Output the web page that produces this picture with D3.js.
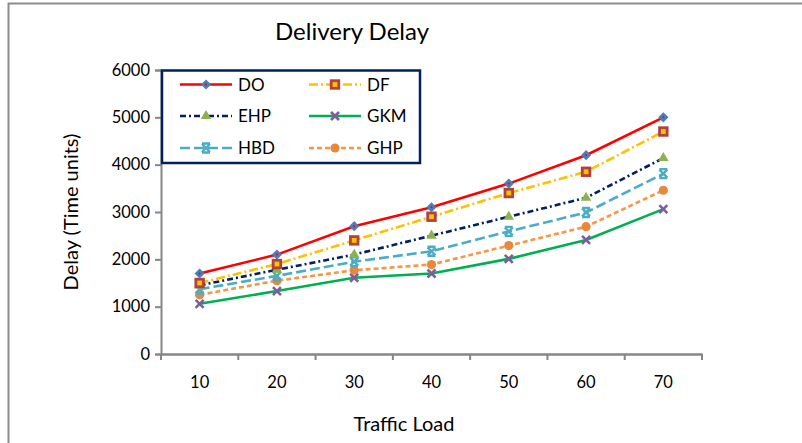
<!DOCTYPE html>
<html><head><meta charset="utf-8">
<script src="https://cdn.jsdelivr.net/npm/d3@7"></script>
<style>
body{margin:0;background:#fff;}
svg{display:block;font-family:Lato,"Open Sans",sans-serif;}
</style></head>
<body><svg id="c" width="802" height="443"></svg>
<script>
const loads = [10, 20, 30, 40, 50, 60, 70];
const yTicks = [0, 1000, 2000, 3000, 4000, 5000, 6000];
const seriesNames = ["DO", "DF", "EHP", "GKM", "HBD", "GHP"];
const DO  = [1700, 2100, 2700, 3100, 3600, 4200, 5000];
const DF  = [1500, 1900, 2400, 2900, 3400, 3850, 4700];
const EHP = [1450, 1780, 2100, 2500, 2900, 3300, 4140];
const GKM = [1060, 1330, 1610, 1700, 2010, 2410, 3060];
const HBD = [1370, 1650, 1950, 2170, 2590, 2990, 3810];
const GHP = [1250, 1550, 1770, 1890, 2290, 2690, 3460];
const values = {DO, DF, EHP, GKM, HBD, GHP};

const styles = {
  DO:  {color:"#ff0000", dash:null,        marker:"diamond", mfill:"#4a7ebb", mstroke:"#4a7ebb"},
  DF:  {color:"#ffc000", dash:"9,3,2,3",   marker:"square",  mfill:"#ffc000", mstroke:"#b0413e"},
  EHP: {color:"#002060", dash:"6,3,2,3",   marker:"triangle",mfill:"#8fb04f", mstroke:"#8fb04f"},
  GKM: {color:"#00b050", dash:null,        marker:"x",       mfill:"#7a5f9e", mstroke:"#7a5f9e"},
  HBD: {color:"#4bacc6", dash:"10,4",      marker:"star",    mfill:"#4bacc6", mstroke:"#4bacc6"},
  GHP: {color:"#f79646", dash:"5,3",       marker:"circle",  mfill:"#e8883a", mstroke:"#e8883a"}
};

const svg = d3.select("#c");
// outer frame
svg.append("rect").attr("x",8.5).attr("y",3.5).attr("width",820).attr("height",460)
  .attr("fill","none").attr("stroke","#8c8c8c").attr("stroke-width",2);

const x = d3.scaleBand().domain(loads).range([161, 702]).padding(0);
const y = d3.scaleLinear().domain([0, 6000]).range([354, 70]);
const cx = d => x(d) + x.bandwidth()/2;
const axisColor = "#868686";

// y axis
const ya = svg.append("g").attr("transform","translate(161,0)")
  .call(d3.axisLeft(y).tickValues(yTicks).tickSize(6).tickPadding(5).tickFormat(d3.format("d")));
ya.select(".domain").attr("stroke",axisColor).attr("stroke-width",2);
ya.selectAll(".tick line").attr("stroke",axisColor).attr("stroke-width",2);
ya.selectAll("text").attr("font-size",16.5).attr("fill","#000").attr("font-family","Lato");

// x axis
const xa = svg.append("g").attr("transform","translate(0,354)")
  .call(d3.axisBottom(x).tickSize(0).tickPadding(22).tickSizeOuter(0));
xa.select(".domain").attr("stroke",axisColor).attr("stroke-width",2.5);
xa.selectAll("text").attr("font-size",16.5).attr("fill","#000").attr("font-family","Lato");
const bounds = loads.map(d => x(d)).concat([x(loads[loads.length-1]) + x.bandwidth()]);
svg.append("g").selectAll("line").data(bounds).join("line")
  .attr("x1",d=>d).attr("x2",d=>d).attr("y1",354).attr("y2",360)
  .attr("stroke",axisColor).attr("stroke-width",2);

// titles
svg.append("text").attr("x",352).attr("y",40).attr("text-anchor","middle")
  .attr("font-size",24).attr("fill","#000").text("Delivery Delay");
svg.append("text").attr("x",404).attr("y",431).attr("text-anchor","middle")
  .attr("font-size",20).attr("fill","#000").text("Traffic Load");
svg.append("text").attr("transform","translate(78,212) rotate(-90)").attr("text-anchor","middle")
  .attr("font-size",20).attr("fill","#000").text("Delay (Time units)");

function drawMarker(g, type, st) {
  if (type === "diamond") {
    g.append("rect").attr("x",-3.6).attr("y",-3.6).attr("width",7.2).attr("height",7.2)
      .attr("transform","rotate(45)").attr("fill", st.mfill);
    g.append("circle").attr("r",1).attr("fill","#ff0000");
  } else if (type === "square") {
    g.append("rect").attr("x",-3.8).attr("y",-3.8).attr("width",7.6).attr("height",7.6)
      .attr("fill", st.mfill).attr("stroke", st.mstroke).attr("stroke-width",2.8);
  } else if (type === "triangle") {
    g.append("path").attr("d", d3.symbol(d3.symbolTriangle, 48)()).attr("fill", st.mfill);
  } else if (type === "x") {
    g.append("path").attr("d", "M-4,-4L4,4M-4,4L4,-4").attr("stroke", st.mstroke)
      .attr("stroke-width",2.6).attr("fill","none");
  } else if (type === "star") {
    g.append("path").attr("d", "M-4,-4L4,4M-4,4L4,-4M-4,-4.5H4M-4,4.5H4").attr("stroke", st.mstroke)
      .attr("stroke-width",2.4).attr("fill","none");
  } else if (type === "circle") {
    g.append("circle").attr("r",4.6).attr("fill", st.mfill);
  }
}

// series
const line = d3.line().x((d,i)=>cx(loads[i])).y(d=>y(d));
const drawOrder = ["GKM","GHP","HBD","EHP","DF","DO"];
drawOrder.forEach(name => {
  const st = styles[name];
  svg.append("path").datum(values[name]).attr("d", line)
    .attr("fill","none").attr("stroke", st.color).attr("stroke-width",2.6)
    .attr("stroke-dasharray", st.dash);
});
drawOrder.forEach(name => {
  const st = styles[name];
  values[name].forEach((v,i) => {
    const g = svg.append("g").attr("transform",`translate(${cx(loads[i])},${y(v)})`);
    drawMarker(g, st.marker, st);
  });
});

// legend
const lg = svg.append("g");
lg.append("rect").attr("x",162).attr("y",70.5).attr("width",258).attr("height",92.5)
  .attr("fill","#fff").attr("stroke","#002060").attr("stroke-width",2.5);
const colX = [180, 309];
const rowY = [84.5, 116, 148];
seriesNames.forEach((name, i) => {
  const st = styles[name];
  const lx = colX[i % 2], ly = rowY[Math.floor(i/2)];
  lg.append("line").attr("x1",lx).attr("x2",lx+52).attr("y1",ly).attr("y2",ly)
    .attr("stroke",st.color).attr("stroke-width",2.6).attr("stroke-dasharray",st.dash);
  drawMarker(lg.append("g").attr("transform",`translate(${lx+26},${ly})`), st.marker, st);
  lg.append("text").attr("x",lx+58).attr("y",ly+6).attr("font-size",17).attr("fill","#000").text(name);
});
</script></body></html>
